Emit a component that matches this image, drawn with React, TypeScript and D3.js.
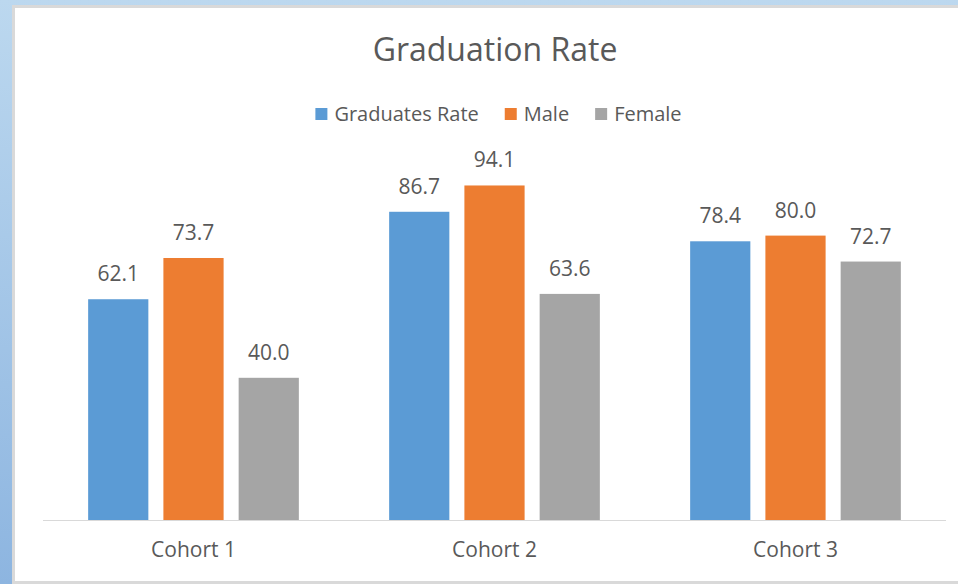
import React, { useEffect, useRef } from "react";
import * as d3 from "d3";

const categories = ["Cohort 1", "Cohort 2", "Cohort 3"];
const seriesNames = ["Graduates Rate", "Male", "Female"];
const graduatesRate = [62.1, 86.7, 78.4];
const male = [73.7, 94.1, 80.0];
const female = [40.0, 63.6, 72.7];
const seriesColors = ["#5B9BD5", "#ED7D31", "#A5A5A5"];
const title = "Graduation Rate";

const W = 958;
const H = 584;
const FONT = "'Open Sans', 'Noto Sans', sans-serif";
const TEXT = "#595959";

export default function App() {
  const ref = useRef<SVGSVGElement | null>(null);

  useEffect(() => {
    const svg = d3.select(ref.current);
    svg.selectAll("*").remove();

    // Background frame
    const defs = svg.append("defs");
    const grad = defs.append("linearGradient").attr("id", "bgGrad").attr("x1", 0).attr("y1", 0).attr("x2", 0).attr("y2", 1);
    grad.append("stop").attr("offset", "0%").attr("stop-color", "#BCD8EF");
    grad.append("stop").attr("offset", "100%").attr("stop-color", "#8DB5E0");
    svg.append("rect").attr("x", 0).attr("y", 0).attr("width", W).attr("height", H).attr("fill", "url(#bgGrad)");
    svg.append("rect").attr("x", 12).attr("y", 5).attr("width", W - 12).attr("height", H - 5).attr("fill", "#D9D9D9");
    svg.append("rect").attr("x", 15).attr("y", 8).attr("width", W - 15).attr("height", 573).attr("fill", "#FFFFFF");

    const table = categories.map((c, i) => ({
      category: c,
      values: [graduatesRate[i], male[i], female[i]],
    }));

    const x0 = d3.scaleBand<string>().domain(categories).range([43, 946]).paddingInner(0.3).paddingOuter(0.15);
    const x1 = d3.scaleBand<string>().domain(seriesNames).range([0, x0.bandwidth()]).paddingInner(0.2).paddingOuter(0);
    const y = d3.scaleLinear().domain([0, 100]).range([520, 164.5]);

    // Title
    svg.append("text")
      .attr("x", 495).attr("y", 61)
      .attr("text-anchor", "middle")
      .attr("font-family", FONT).attr("font-size", 32)
      .attr("fill", TEXT)
      .text(title);

    // Legend
    const legend = svg.append("g");
    let cursor = 0;
    seriesNames.forEach((name, i) => {
      const g = legend.append("g").attr("transform", `translate(${cursor},0)`);
      g.append("rect").attr("x", 0).attr("y", -13).attr("width", 12).attr("height", 12).attr("fill", seriesColors[i]);
      const t = g.append("text")
        .attr("x", 19).attr("y", 0)
        .attr("font-family", FONT).attr("font-size", 20)
        .attr("fill", TEXT)
        .text(name);
      const w = (t.node() as SVGTextElement).getComputedTextLength();
      cursor += 19 + w + 26;
    });
    const legendW = cursor - 26;
    legend.attr("transform", `translate(${498.5 - legendW / 2},121)`);

    // Axis line
    svg.append("line")
      .attr("x1", 43).attr("x2", 946)
      .attr("y1", 520.5).attr("y2", 520.5)
      .attr("stroke", "#D9D9D9").attr("stroke-width", 1);

    // Bars
    const groups = svg.selectAll("g.cat").data(table).enter().append("g")
      .attr("class", "cat")
      .attr("transform", (d) => `translate(${x0(d.category)},0)`);

    groups.selectAll("rect").data((d) => d.values.map((v, i) => ({ v, i }))).enter().append("rect")
      .attr("x", (d) => x1(seriesNames[d.i]) as number)
      .attr("y", (d) => y(d.v))
      .attr("width", x1.bandwidth())
      .attr("height", (d) => y(0) - y(d.v))
      .attr("fill", (d) => seriesColors[d.i]);

    groups.selectAll("text").data((d) => d.values.map((v, i) => ({ v, i }))).enter().append("text")
      .attr("x", (d) => (x1(seriesNames[d.i]) as number) + x1.bandwidth() / 2)
      .attr("y", (d) => y(d.v) - 18)
      .attr("text-anchor", "middle")
      .attr("font-family", FONT).attr("font-size", 21)
      .attr("fill", TEXT)
      .text((d) => d.v.toFixed(1));

    // Category labels
    svg.selectAll("text.cl").data(categories).enter().append("text")
      .attr("class", "cl")
      .attr("x", (d) => (x0(d) as number) + x0.bandwidth() / 2)
      .attr("y", 557)
      .attr("text-anchor", "middle")
      .attr("font-family", FONT).attr("font-size", 21)
      .attr("fill", TEXT)
      .text((d) => d);
  }, []);

  return (
    <svg
      ref={ref}
      width={W}
      height={H}
      style={{ position: "absolute", left: 0, top: 0, display: "block" }}
    />
  );
}
